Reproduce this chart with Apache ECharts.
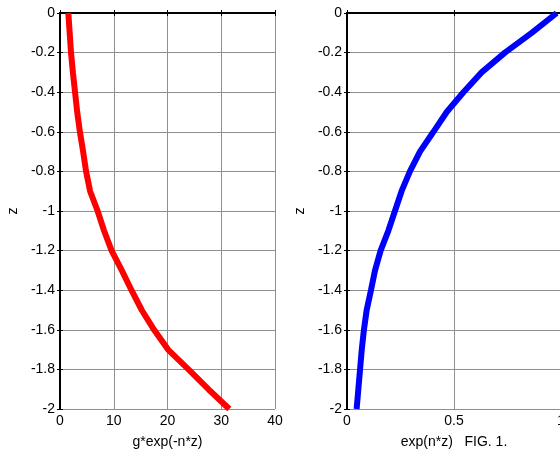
<!DOCTYPE html>
<html>
<head>
<meta charset="utf-8">
<script src="https://cdn.jsdelivr.net/npm/echarts@6/dist/echarts.min.js"></script>
<style>
  html, body { margin: 0; padding: 0; background: #fff; }
  #main { width: 560px; height: 451px; }
</style>
</head>
<body>
<div id="main"></div>
<script>
// depth values (z)
var depth = [0, -0.1, -0.2, -0.3, -0.4, -0.5, -0.6, -0.7, -0.8, -0.9, -1.0,
             -1.1, -1.2, -1.3, -1.4, -1.5, -1.6, -1.7, -1.8, -1.9, -2.0];
// left panel: g*exp(-n*z)
var redX = [1.55, 1.8, 2.05, 2.4, 2.8, 3.2, 3.7, 4.3, 4.85, 5.6, 7.0,
            8.2, 9.6, 11.5, 13.3, 15.2, 17.5, 20.1, 23.9, 27.6, 31.5];
// right panel: exp(n*z)
var blueX = [0.98, 0.863, 0.738, 0.629, 0.544, 0.466, 0.404, 0.341, 0.294, 0.255, 0.224,
             0.193, 0.157, 0.131, 0.112, 0.092, 0.079, 0.069, 0.061, 0.053, 0.045];

function pairs(xs, ys) {
  var out = [];
  for (var i = 0; i < xs.length; i++) out.push([xs[i], ys[i]]);
  return out;
}

var font = 'Liberation Sans, Arial, sans-serif';
var gridLine = { show: true, lineStyle: { color: '#8f8f8f', width: 1 } };

// bottom x axis with label
function xBottom(idx, max, step, name) {
  return {
    type: 'value', gridIndex: idx, position: 'bottom', min: 0, max: max, interval: step,
    name: name, nameLocation: 'middle', nameGap: 26,
    nameTextStyle: { color: '#000', fontSize: 14, fontFamily: font },
    axisLine: { show: true, lineStyle: { color: '#000', width: 2 } },
    axisTick: { show: true, inside: true, length: 3, lineStyle: { color: '#000' } },
    axisLabel: { color: '#000', fontSize: 14, fontFamily: font, margin: 5 },
    splitLine: gridLine
  };
}
// top x axis, ticks only
function xTop(idx, max, step) {
  return {
    type: 'value', gridIndex: idx, position: 'top', min: 0, max: max, interval: step,
    axisLine: { show: true, lineStyle: { color: '#000', width: 1.5 } },
    axisTick: { show: true, inside: true, length: 3, lineStyle: { color: '#000' } },
    axisLabel: { show: false }, splitLine: { show: false }
  };
}
function yLeft(idx) {
  return {
    type: 'value', gridIndex: idx, position: 'left', min: -2, max: 0, interval: 0.2,
    name: 'z', nameLocation: 'middle', nameGap: 40, nameRotate: 90,
    nameTextStyle: { color: '#000', fontSize: 14, fontFamily: font },
    axisLine: { show: true, lineStyle: { color: '#000', width: 2 } },
    axisTick: { show: true, inside: true, length: 3, lineStyle: { color: '#000' } },
    axisLabel: { color: '#000', fontSize: 14, fontFamily: font, margin: 5 },
    splitLine: gridLine
  };
}
function yRight(idx) {
  return {
    type: 'value', gridIndex: idx, position: 'right', min: -2, max: 0, interval: 0.2,
    axisLine: { show: true, lineStyle: { color: '#000', width: 1 } },
    axisTick: { show: true, inside: true, length: 3, lineStyle: { color: '#000' } },
    axisLabel: { show: false }, splitLine: { show: false }
  };
}

var chart = echarts.init(document.getElementById('main'));
var option = {
  animation: false,
  backgroundColor: '#fff',
  grid: [
    { left: 60, top: 13, width: 215, height: 396, containLabel: false, outerBoundsMode: 'none' },
    { left: 347, top: 13, width: 214, height: 396, containLabel: false, outerBoundsMode: 'none' }
  ],
  xAxis: [
    xBottom(0, 40, 10, 'g*exp(-n*z)'),
    xTop(0, 40, 10),
    xBottom(1, 1, 0.5, 'exp(n*z)   FIG. 1.'),
    xTop(1, 1, 0.5)
  ],
  yAxis: [yLeft(0), yRight(0), yLeft(1), yRight(1)],
  series: [
    {
      type: 'line', xAxisIndex: 0, yAxisIndex: 0, data: pairs(redX, depth),
      showSymbol: false, symbol: 'none',
      lineStyle: { color: '#ff0000', width: 6 }
    },
    {
      type: 'line', xAxisIndex: 2, yAxisIndex: 2, data: pairs(blueX, depth),
      showSymbol: false, symbol: 'none',
      lineStyle: { color: '#0000ff', width: 6 }
    }
  ]
};
chart.setOption(option);
</script>
</body>
</html>
